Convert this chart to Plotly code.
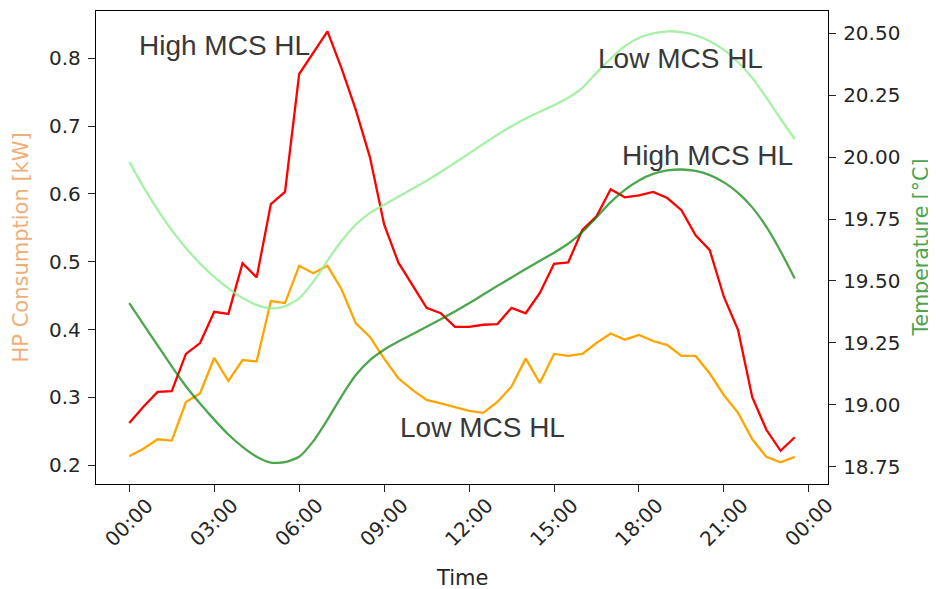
import plotly.graph_objects as go

# ---------------- data ----------------
hours = [i * 0.5 for i in range(48)]  # 00:00 ... 23:30, half-hourly

hp_high = [0.262, 0.286, 0.308, 0.309, 0.364, 0.380, 0.426, 0.423, 0.498, 0.477,
           0.585, 0.603, 0.777, 0.808, 0.840, 0.785, 0.724, 0.654, 0.555, 0.499,
           0.465, 0.432, 0.424, 0.404, 0.404, 0.407, 0.408, 0.432, 0.424, 0.454,
           0.497, 0.499, 0.547, 0.567, 0.607, 0.595, 0.598, 0.603, 0.594, 0.576,
           0.539, 0.517, 0.448, 0.399, 0.300, 0.252, 0.221, 0.241]

hp_low = [0.213, 0.224, 0.238, 0.236, 0.293, 0.306, 0.358, 0.324, 0.355, 0.353,
          0.442, 0.439, 0.494, 0.483, 0.494, 0.459, 0.409, 0.389, 0.357, 0.328,
          0.311, 0.296, 0.291, 0.285, 0.280, 0.277, 0.293, 0.316, 0.357, 0.321,
          0.364, 0.361, 0.364, 0.380, 0.394, 0.385, 0.392, 0.383, 0.377, 0.361,
          0.361, 0.335, 0.303, 0.277, 0.238, 0.212, 0.204, 0.212]

temp_high = [19.41, 19.325, 19.24, 19.155, 19.075, 19.005, 18.94, 18.88, 18.83, 18.79,
             18.766, 18.768, 18.79, 18.853, 18.94, 19.035, 19.12, 19.18, 19.222, 19.255,
             19.285, 19.315, 19.345, 19.377, 19.41, 19.445, 19.48, 19.514, 19.548, 19.581,
             19.614, 19.65, 19.698, 19.757, 19.818, 19.868, 19.906, 19.932, 19.946, 19.95,
             19.944, 19.927, 19.898, 19.856, 19.797, 19.718, 19.62, 19.51]

temp_low = [19.981, 19.880, 19.788, 19.705, 19.633, 19.570, 19.516, 19.470, 19.431, 19.403,
            19.389, 19.397, 19.430, 19.497, 19.582, 19.662, 19.728, 19.775, 19.808, 19.840,
            19.872, 19.905, 19.940, 19.977, 20.015, 20.053, 20.090, 20.125, 20.156, 20.183,
            20.210, 20.240, 20.280, 20.340, 20.398, 20.448, 20.482, 20.500, 20.508, 20.505,
            20.492, 20.468, 20.433, 20.383, 20.320, 20.240, 20.155, 20.073]

x_tick_vals = [0, 3, 6, 9, 12, 15, 18, 21, 24]
x_tick_text = ["00:00", "03:00", "06:00", "09:00", "12:00", "15:00", "18:00", "21:00", "00:00"]
y_left_ticks = [0.2, 0.3, 0.4, 0.5, 0.6, 0.7, 0.8]
y_right_ticks = [18.75, 19.00, 19.25, 19.50, 19.75, 20.00, 20.25, 20.50]

# ---------------- figure ----------------
TICK_FONT = dict(family="DejaVu Sans", size=20, color="#262626")
LBL_FONT = dict(family="Liberation Sans", size=28, color="#383838")
PH = 473.0  # plot-area height in px (used for paper fractions)

fig = go.Figure()
fig.add_trace(go.Scatter(x=hours, y=hp_high, mode="lines", line=dict(color="#ff0000", width=2.3),
                         yaxis="y", showlegend=False))
fig.add_trace(go.Scatter(x=hours, y=hp_low, mode="lines", line=dict(color="#ffa500", width=2.3),
                         yaxis="y", showlegend=False))
fig.add_trace(go.Scatter(x=hours, y=temp_high, mode="lines",
                         line=dict(color="rgba(0,128,0,0.7)", width=2.3, shape="spline", smoothing=0.6),
                         yaxis="y2", showlegend=False))
fig.add_trace(go.Scatter(x=hours, y=temp_low, mode="lines",
                         line=dict(color="rgba(144,238,144,0.8)", width=2.3, shape="spline", smoothing=0.6),
                         yaxis="y2", showlegend=False))

def ann(x, y, text, font, xref="paper", angle=0):
    return dict(x=x, y=y, xref=xref, yref="paper", text=text, showarrow=False, textangle=angle,
                font=font, xanchor="center", yanchor="middle")

annotations = []
for v, t in zip(x_tick_vals, x_tick_text):
    annotations.append(ann(v, -38 / PH, t, TICK_FONT, xref="x", angle=-45))
annotations.append(ann(0.5, -94 / PH, "Time", dict(family="DejaVu Sans", size=21, color="#262626")))
annotations.append(ann(-76 / 732, 0.5, "HP Consumption [kW]",
                       dict(family="DejaVu Sans", size=21, color="#f0ae78"), angle=-90))
annotations.append(ann(824 / 732, 0.5, "Temperature [°C]",
                       dict(family="DejaVu Sans", size=20.5, color="#4da64d"), angle=-90))

# curve labels
annotations.append(ann(3.36, (484 - 45) / PH, "High MCS HL", LBL_FONT, xref="x"))
annotations.append(ann(19.46, (484 - 58) / PH, "Low MCS HL", LBL_FONT, xref="x"))
annotations.append(ann(20.42, (484 - 155) / PH, "High MCS HL", LBL_FONT, xref="x"))
annotations.append(ann(12.46, (484 - 427) / PH, "Low MCS HL", LBL_FONT, xref="x"))

axis_common = dict(showgrid=False, zeroline=False, showline=True, linecolor="black", linewidth=1.3,
                   ticks="outside", ticklen=7, tickwidth=1.2, tickcolor="#262626")

fig.update_layout(
    width=936, height=589,
    # page body has an 8px margin; compensate so the plot area sits at x 96-828, y 11-484
    margin=dict(l=88, r=116, t=3, b=113, autoexpand=False),
    paper_bgcolor="white", plot_bgcolor="white",
    xaxis=dict(range=[-1.175, 24.675], tickvals=x_tick_vals, showticklabels=False,
               mirror=True, **axis_common),
    yaxis=dict(range=[0.172, 0.870], tickvals=y_left_ticks, tickformat=".1f",
               ticklabelstandoff=3, tickfont=TICK_FONT, automargin=False, **axis_common),
    yaxis2=dict(range=[18.680, 20.590], tickvals=y_right_ticks, tickformat=".2f",
                overlaying="y", side="right", ticklabelstandoff=3, tickfont=TICK_FONT,
                automargin=False, **axis_common),
    annotations=annotations,
)

fig.write_html("out.html")
